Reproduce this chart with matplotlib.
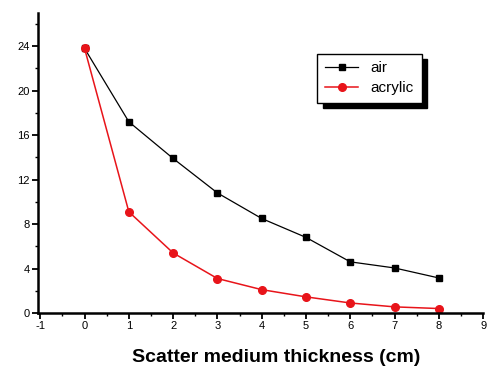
import matplotlib.pyplot as plt
from matplotlib.ticker import MultipleLocator

plt.rcParams['font.family'] = ['Liberation Sans', 'DejaVu Sans']
plt.rcParams['axes.unicode_minus'] = False

thickness = [0, 1, 2, 3, 4, 5, 6, 7, 8]
air = [23.8, 17.2, 13.9, 10.8, 8.5, 6.8, 4.6, 4.05, 3.15]
acrylic = [23.8, 9.1, 5.4, 3.1, 2.1, 1.45, 0.9, 0.55, 0.4]

fig = plt.figure(figsize=(4.88, 3.78), dpi=100)
ax = fig.add_axes([0.078, 0.172, 0.912, 0.794])

ax.plot(thickness, air, color='black', marker='s', markersize=5, linewidth=0.9, label='air')
ax.plot(thickness, acrylic, color='#e8141a', marker='o', markersize=5.5, linewidth=1.1,
        markeredgecolor='#e8141a', label='acrylic')

ax.set_xlim(-1.05, 9)
ax.set_ylim(0, 27)
ax.xaxis.set_major_locator(MultipleLocator(1))
ax.xaxis.set_minor_locator(MultipleLocator(0.5))
ax.yaxis.set_major_locator(MultipleLocator(4))
ax.yaxis.set_minor_locator(MultipleLocator(2))

for s in ['top', 'right']:
    ax.spines[s].set_visible(False)
for s in ['left', 'bottom']:
    ax.spines[s].set_linewidth(1.8)

ax.tick_params(which='major', direction='out', length=4, width=1.3, labelsize=8, pad=2)
ax.tick_params(which='minor', direction='out', length=2, width=1.0)

ax.set_xlabel('Scatter medium thickness (cm)', fontsize=14, fontweight='bold')
ax.xaxis.set_label_coords(0.535, -0.12)

leg = ax.legend(loc='upper left', bbox_to_anchor=(0.61, 0.89), fancybox=False,
                shadow={'color': 'black', 'alpha': 1, 'ox': 4, 'oy': -4},
                edgecolor='black', fontsize=11, handlelength=2.2, borderpad=0.5,
                labelspacing=0.4, framealpha=1)
leg.get_frame().set_linewidth(1.0)

fig.savefig('out.png', dpi=100)
